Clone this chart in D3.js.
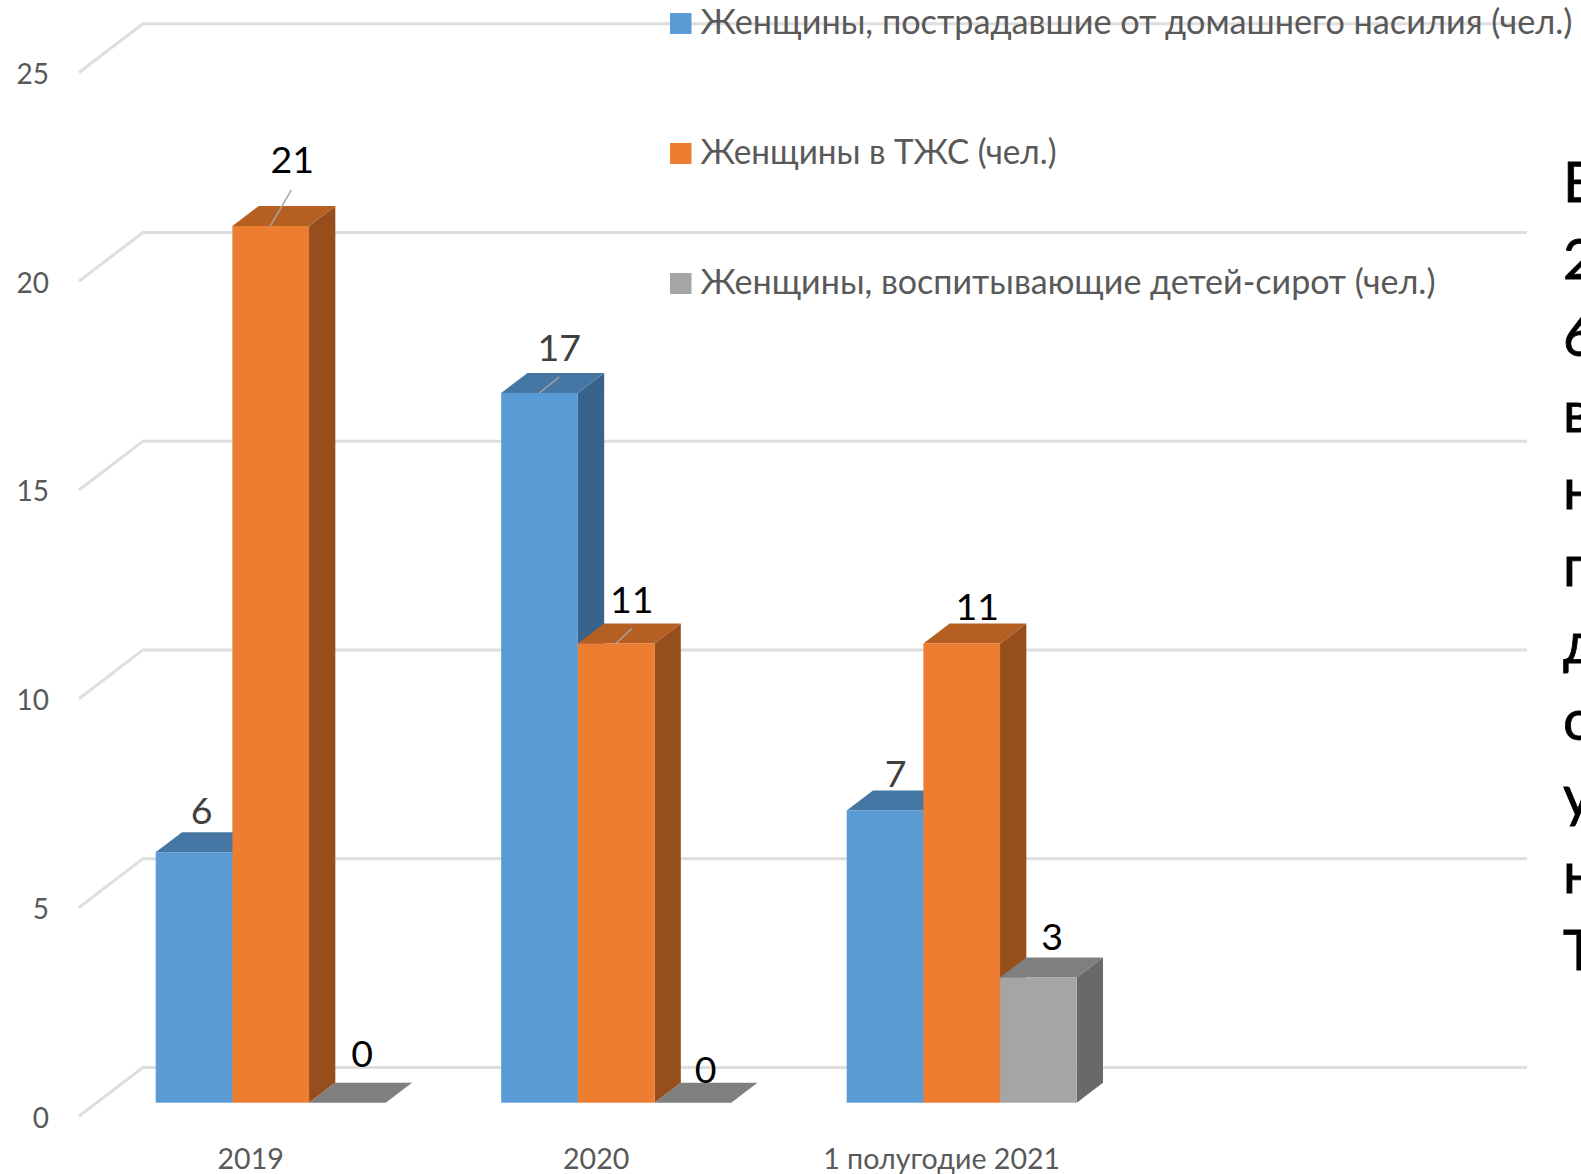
<!DOCTYPE html>
<html><head><meta charset="utf-8">
<script src="https://cdn.jsdelivr.net/npm/d3@7/dist/d3.min.js"></script>
<style>html,body{margin:0;padding:0;background:#fff;overflow:hidden}svg{display:block}text{font-family:Lato,"Noto Sans",sans-serif}</style>
</head><body><svg id="c" width="1581" height="1174"></svg>
<script>
const categories=["2019","2020","1 полугодие 2021"];
const seriesNames=["Женщины, пострадавшие от домашнего насилия (чел.)","Женщины в ТЖС (чел.)","Женщины, воспитывающие детей-сирот (чел.)"];
const victims=[6,17,7];
const difficult=[21,11,11];
const orphans=[0,0,3];
const yTicks=[0,5,10,15,20,25];
const sideLetters=["В","2","6","в","н","п","д","о","у","н","Т"];

const seriesValues=[victims,difficult,orphans];
const front=["#5B9BD5","#ED7D31","#A5A5A5"],top_=["#4677A4","#B55F23","#7F7F7F"],side=["#38648B","#974E1D","#696969"];
const legendWidths=[872,356,735];
const dx=26.3,dy=19.9;
const svg=d3.select("#c");
const y=d3.scaleLinear().domain([0,25]).range([1102.7,59]);
const wall=v=>y(v)-35.3, wallFront=v=>y(v)+13.5;
const x0=d3.scaleBand().domain(categories).range([155.7,155.7+3*345.5-115.5]).paddingInner(115.5/345.5).paddingOuter(0);
const x1=d3.scaleBand().domain([0,1,2]).range([0,x0.bandwidth()]);

// gridlines
const g=svg.append("g").attr("stroke","#DEDEDE").attr("stroke-width",3).attr("fill","none");
g.selectAll("path").data(yTicks).join("path")
 .attr("d",v=>`M79,${wallFront(v)}L143,${wall(v)}L1527,${wall(v)}`);

// y axis
const ax=svg.append("g").attr("transform","translate(49,15.5)").call(d3.axisLeft(y).tickValues(yTicks).tickSize(0).tickPadding(0).tickFormat(d3.format("d")));
ax.select(".domain").remove();
ax.selectAll("text").attr("fill","#595959").style("font-size","28px").style("font-family",'Lato,"Noto Sans",sans-serif');

// x labels
svg.append("g").selectAll("text").data(categories).join("text")
 .attr("x",c=>x0(c)+x0.bandwidth()/2-20)
 .attr("y",1169).attr("text-anchor","middle").attr("fill","#595959").style("font-size","28.6px").text(c=>c);

// bars
seriesValues.forEach((vals,s)=>{
 const bars=svg.append("g").selectAll("g").data(categories.map((c,i)=>({c,v:vals[i]}))).join("g");
 const X=d=>x0(d.c)+x1(s),W=x1.bandwidth(),B=y(0);
 bars.append("path").attr("fill",side[s]).attr("d",d=>`M${X(d)+W},${y(d.v)}l${dx},${-dy}V${B-dy}l${-dx},${dy}Z`);
 bars.append("path").attr("fill",top_[s]).attr("d",d=>`M${X(d)},${y(d.v)}l${dx},${-dy}h${W}l${-dx},${dy}Z`);
 bars.append("rect").attr("fill",front[s]).attr("x",X).attr("y",d=>y(d.v)).attr("width",W).attr("height",d=>B-y(d.v));
});

// data labels (hand-placed in the original, so offsets from each bar): series, category, value, yOffset, colour, xOffset
const lab=[[0,0,6,4,"#404040",46],[1,0,21,-21,"#000",60],[2,0,0,-4,"#000",53],[0,1,17,0,"#404040",58],[1,1,11,2,"#000",54],[2,1,0,12,"#000",51],[0,2,7,9,"#404040",49],[1,2,11,9,"#000",54],[2,2,3,5,"#000",52]];
svg.append("g").selectAll("text").data(lab).join("text")
 .attr("x",d=>x0(categories[d[1]])+x1(d[0])+d[5])
 .attr("y",d=>y(d[2])-32+d[3])
 .attr("text-anchor","middle").attr("fill",d=>d[4]).style("font-size","37.5px").text(d=>d[2]);

// leaders
const leaders=[[1,0,21,21,36],[0,1,17,20,16],[1,1,11,16,15]];
svg.append("g").attr("stroke","#A6A6A6").attr("stroke-width",1.5).selectAll("line").data(leaders).join("line")
 .attr("x1",d=>x0(categories[d[1]])+x1(d[0])+38).attr("y1",d=>y(d[2]))
 .attr("x2",d=>x0(categories[d[1]])+x1(d[0])+38+d[3]).attr("y2",d=>y(d[2])-d[4]);

// legend
const leg=svg.append("g").selectAll("g").data(seriesNames).join("g").attr("transform",(d,i)=>`translate(670,${13+130*i})`);
leg.append("rect").attr("width",21.5).attr("height",21).attr("fill",(d,i)=>front[i]);
leg.append("text").attr("x",30.5).attr("y",21).attr("fill","#595959").style("font-size","34px")
 .attr("textLength",(d,i)=>legendWidths[i]).attr("lengthAdjust","spacingAndGlyphs").text(d=>d);

// cropped text at right edge
svg.append("g").selectAll("text").data(sideLetters).join("text")
 .attr("x",1563).attr("y",(d,i)=>202+i*76.8).attr("fill","#000").attr("stroke","#000").attr("stroke-width",0.8).style("font-size","56px").text(d=>d);
</script></body></html>
